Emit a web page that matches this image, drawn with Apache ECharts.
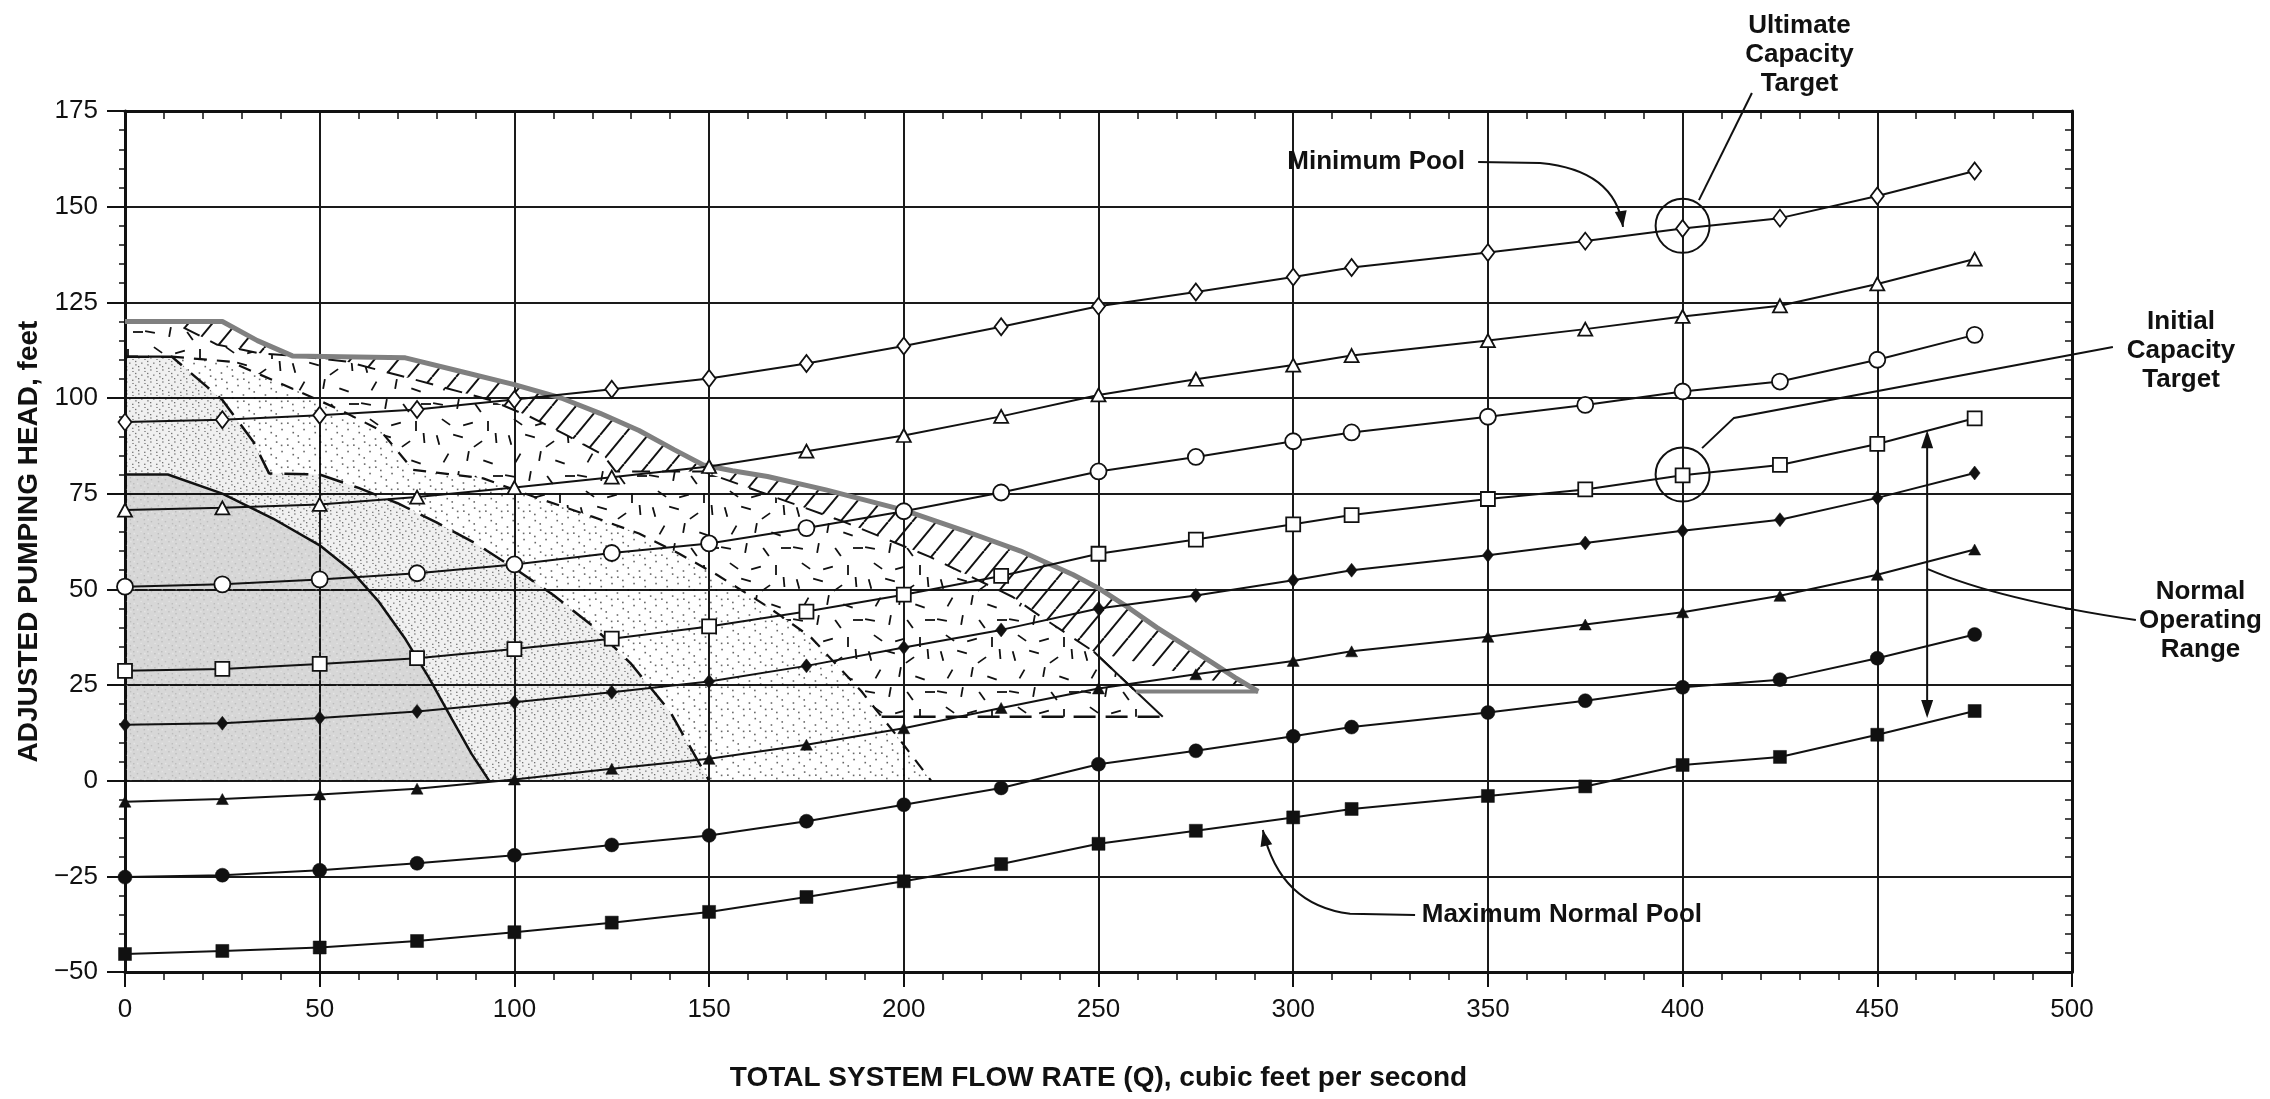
<!DOCTYPE html>
<html><head><meta charset="utf-8">
<script src="https://cdn.jsdelivr.net/npm/echarts@6/dist/echarts.min.js"></script>
<style>html,body{margin:0;padding:0;background:#fff}#chart{width:2270px;height:1099px}</style>
</head><body><div id="chart"></div>
<script>
// ---------------- DATA ----------------
const flowQ = [0,25,50,75,100,125,150,175,200,225,250,275,300,315,350,375,400,425,450,475];
const xTicks = [0,50,100,150,200,250,300,350,400,450,500];
const yTicks = [-50,-25,0,25,50,75,100,125,150,175];

const headMinPool      = [93.7,94.3,95.5,97.0,99.6,102.3,105.1,109.0,113.6,118.6,124.0,127.7,131.6,134.1,138.0,141.0,144.3,147.0,152.8,159.3];
const headOpenTriangle = [70.7,71.3,72.2,74.1,76.6,79.3,82.1,86.1,90.2,95.2,100.8,104.9,108.6,111.1,115.0,118.0,121.3,124.1,129.8,136.3];
const headOpenCircle   = [50.7,51.3,52.6,54.2,56.5,59.5,62.0,66.0,70.4,75.3,80.8,84.6,88.7,91.0,95.1,98.2,101.7,104.3,110.0,116.5];
const headOpenSquare   = [28.7,29.2,30.5,32.0,34.4,37.1,40.3,44.2,48.6,53.5,59.3,63.0,67.0,69.4,73.6,76.1,79.8,82.5,88.0,94.7];
const headFillDiamond  = [14.6,15.0,16.4,18.1,20.5,23.1,25.9,30.0,34.8,39.4,45.0,48.4,52.4,55.0,58.9,62.1,65.3,68.2,73.9,80.4];
const headFillTriangle = [-5.5,-4.8,-3.6,-2.1,0.3,3.1,5.7,9.4,13.7,19.0,24.1,27.8,31.3,33.8,37.6,40.8,44.0,48.3,53.8,60.4];
const headFillCircle   = [-25.2,-24.7,-23.4,-21.6,-19.5,-16.8,-14.3,-10.6,-6.3,-1.9,4.3,7.8,11.6,14.0,17.8,20.9,24.4,26.4,32.0,38.2];
const headMaxPool      = [-45.3,-44.5,-43.6,-41.9,-39.6,-37.1,-34.3,-30.4,-26.3,-21.8,-16.5,-13.1,-9.6,-7.4,-4.0,-1.5,4.1,6.2,12.0,18.2];

// operating-zone boundaries [flow, head]
const solidCurve = [[0,80],[11,80],[25,75],[38,68.5],[50,61.5],[58,55],[65,47],[72,37],[78,27],[84,16],[89,7],[93.5,0]];
const longDash = [[0,110.8],[12,110.8],[25,99.5],[33,88.5],[37,80.3],[50,80],[60,76.5],[70,72.5],[80,67.5],[90,62],[100,55.5],[110,48.5],[120,40.5],[130,30.5],[140,18],[150,0]];
const mediumDash = [[0,110.8],[12,110.8],[27,109.5],[44,102],[55,97],[65.5,91.6],[74,81.2],[80,80.5],[92,79],[105,74.2],[120,69],[132,64.6],[142,59.5],[152,53.8],[165,45.5],[176,37.6],[189,23.5],[194.3,16.7],[198,12],[207,0]];
const innerBoundary = [[0,120],[12,120],[23.5,114],[35,111.6],[45,110.9],[57,109.5],[70,106],[81,103],[93.7,99.5],[104,95.1],[113,90.5],[122.8,85.1],[126,80.8],[148.5,80.8],[163,75.5],[184.5,67.7],[206.7,58.5],[228,48],[234,43.7],[248.8,33.7],[259.6,23.3]];
const topBoundary = [[0,120],[25,120],[34,115],[43,111],[72,110.5],[86,107],[100,103.5],[112,100],[122,96],[132,91.5],[141,86.5],[148.5,82.5],[156,81],[165,79.5],[180,76],[200,70.7],[215,65.5],[230,60],[243.5,53.8],[250,50.3],[258,45],[265,40],[272,35.5],[279,31],[285,27],[291,23.3]];
const hatchFloor = [[259.6,23.3],[291,23.3]];
const innerTail = [[248.8,33.7],[266.5,16.7]];
const bottomDash = [[194.3,16.7],[266.5,16.7]];

// annotations [flow, head]
const targetCircles = [[400,145],[400,80]];
const noteTexts = ['Ultimate\nCapacity\nTarget','Minimum Pool','Initial\nCapacity\nTarget','Normal\nOperating\nRange','Maximum Normal Pool'];
const notePos = [[430,189.6],[321.3,161.7],[528,112.3],[533,41.7],[369,-35.1]];
const ultimateLeader = [[404.2,151.7],[417.8,179.7]];
const initialLeader = [[510.5,113.3],[413.2,94.8],[405,86.9]];
const minPoolLeader = [[347.5,161.7],[363.4,161.4],[382.6,159.6],[384.7,144.7]];
const maxPoolLeader = [[331.3,-35.1],[314.6,-34.8],[296.6,-32.5],[292.2,-12.9]];
const rangeArrow = [[462.8,91.6],[462.8,16.4]];
const rangeLeader = [[463,55.3],[481.5,47.2],[516.4,42]];

// ---------------- STYLE ----------------
const FONT = '"Liberation Sans", Arial, Helvetica, sans-serif';
const INK = '#111';

function tile(w,h,draw){const c=document.createElement('canvas');c.width=w;c.height=h;draw(c.getContext('2d'),w,h);return {image:c,repeat:'repeat'};}
function r2(i){return [(0.5+i*0.7548776662)%1,(0.5+i*0.5698402910)%1];}
const patGray = tile(14,14,(g,w,h)=>{g.fillStyle='rgba(0,0,0,0.155)';g.fillRect(0,0,w,h);
  g.fillStyle='rgba(0,0,0,0.12)';for(let i=0;i<6;i++){const p=r2(i);g.fillRect(p[0]*w,p[1]*h,1.5,1.5);}
  g.fillStyle='rgba(255,255,255,0.3)';for(let i=6;i<10;i++){const p=r2(i);g.fillRect(p[0]*w,p[1]*h,1.5,1.5);}});
const patDense = tile(12,12,(g,w,h)=>{g.fillStyle='rgba(0,0,0,0.06)';g.fillRect(0,0,w,h);
  g.fillStyle='rgba(0,0,0,0.55)';for(let i=0;i<7;i++){const p=r2(i);g.fillRect(p[0]*w,p[1]*h,1.3,1.3);}});
const patSparse = tile(22,22,(g,w,h)=>{g.fillStyle='rgba(0,0,0,0.6)';for(let i=0;i<8;i++){const p=r2(i+3);g.fillRect(p[0]*w,p[1]*h,1.6,1.6);}});
const confetti = [[6,8,75],[26,4,15],[46,12,-35],[64,6,85],[14,26,-60],[36,24,100],[56,30,20],[6,44,10],[26,44,-80],[46,48,55],[66,44,0],[14,62,35],[36,64,-15],[56,66,90]];
const patConfetti = tile(72,72,(g)=>{g.strokeStyle=INK;g.lineWidth=1.8;confetti.forEach(d=>{const a=d[2]*Math.PI/180,dx=5*Math.cos(a),dy=5*Math.sin(a);g.beginPath();g.moveTo(d[0]-dx,d[1]-dy);g.lineTo(d[0]+dx,d[1]+dy);g.stroke();});});
const patHatch = tile(24,29,(g,w,h)=>{g.strokeStyle=INK;g.lineWidth=2;for(let k=-1;k<=1;k++){g.beginPath();g.moveTo(k*w,h);g.lineTo(k*w+w,0);g.stroke();}});

const zoneA = [[0,0]].concat(solidCurve);
const zoneB = longDash.concat(solidCurve.slice().reverse());
const zoneC = longDash.concat(mediumDash.slice().reverse());
const zoneD = innerBoundary.concat([[266.5,16.7]]).concat(mediumDash.filter(p=>p[1]>=16.7).reverse());
const zoneE = topBoundary.concat(innerBoundary.slice(0,-1).reverse());
const zones = [zoneA,zoneB,zoneC,zoneD,zoneE];
const zoneFills = [patGray,patDense,patSparse,patConfetti,patHatch];

function pairs(ys){return flowQ.map((x,i)=>[x,ys[i]]);}
function dataLine(name, ys, symbol, size, open){
  return {name, type:'line', data:pairs(ys), symbol, symbolSize:size, showAllSymbol:true, z:4,
    lineStyle:{color:INK,width:2}, itemStyle:{color:open?'#fff':INK,borderColor:INK,borderWidth:open?1.8:0.5},
    emphasis:{disabled:true}, animation:false};
}
function bLine(data, opts){return Object.assign({type:'line',data,symbol:'none',z:3,silent:true,animation:false,
  lineStyle:{color:INK,width:2.5,type:'solid'}},opts||{});}

function arrowHead(tip, from, len, half){
  const dx=tip[0]-from[0], dy=tip[1]-from[1], L=Math.hypot(dx,dy)||1, ux=dx/L, uy=dy/L;
  const bx=tip[0]-ux*len, by=tip[1]-uy*len;
  return {type:'polygon',shape:{points:[tip,[bx-uy*half,by+ux*half],[bx+uy*half,by-ux*half]]},style:{fill:INK}};
}

const yLabel = v => v<0 ? '\u2212'+Math.abs(v) : String(v);

const option = {
  backgroundColor:'#fff',
  animation:false,
  grid:{left:125,right:198,top:111,bottom:127,containLabel:false},
  xAxis:[{
    type:'value',min:xTicks[0],max:xTicks[xTicks.length-1],interval:50,position:'bottom',
    axisLine:{show:true,onZero:false,lineStyle:{color:INK,width:3}},
    axisTick:{show:true,length:15,lineStyle:{color:INK,width:2}},
    minorTick:{show:true,splitNumber:5,length:8,lineStyle:{color:INK,width:1.5}},
    axisLabel:{fontSize:26,color:INK,margin:25,fontFamily:FONT},
    splitLine:{show:true,lineStyle:{color:'#1a1a1a',width:2}},
    name:'TOTAL SYSTEM FLOW RATE (Q), cubic feet per second',nameLocation:'middle',nameGap:92,
    nameTextStyle:{fontSize:28,fontWeight:'bold',color:INK,fontFamily:FONT}
  },{
    type:'value',min:xTicks[0],max:xTicks[xTicks.length-1],interval:50,position:'top',
    axisLine:{show:true,onZero:false,lineStyle:{color:INK,width:3}},
    axisTick:{show:false,inside:true},
    minorTick:{show:true,splitNumber:5,length:8,lineStyle:{color:INK,width:1.5}},
    axisLabel:{show:false},splitLine:{show:false}
  }],
  yAxis:[{
    type:'value',min:yTicks[0],max:yTicks[yTicks.length-1],interval:25,position:'left',
    axisLine:{show:true,onZero:false,lineStyle:{color:INK,width:3}},
    axisTick:{show:true,length:18,lineStyle:{color:INK,width:2}},
    minorTick:{show:true,splitNumber:5,length:6,lineStyle:{color:INK,width:1.5}},
    axisLabel:{fontSize:26,color:INK,margin:27,fontFamily:FONT,formatter:yLabel},
    splitLine:{show:true,lineStyle:{color:'#1a1a1a',width:2}},
    name:'ADJUSTED PUMPING HEAD, feet',nameLocation:'middle',nameRotate:90,nameGap:76,
    nameTextStyle:{fontSize:28,fontWeight:'bold',color:INK,fontFamily:FONT}
  },{
    type:'value',min:yTicks[0],max:yTicks[yTicks.length-1],interval:25,position:'right',
    axisLine:{show:true,onZero:false,lineStyle:{color:INK,width:3}},
    axisTick:{show:false,inside:true},
    minorTick:{show:true,splitNumber:5,length:7,lineStyle:{color:INK,width:1.5}},
    axisLabel:{show:false},splitLine:{show:false}
  }],
  series:[
    {type:'custom',coordinateSystem:'cartesian2d',z:1,silent:true,clip:true,
     data:zones.map((z,i)=>[i,0]),
     renderItem:(params,api)=>({type:'polygon',shape:{points:zones[params.dataIndex].map(p=>api.coord(p))},
       style:{fill:zoneFills[params.dataIndex],stroke:null}})},
    bLine(solidCurve,{lineStyle:{color:INK,width:2.5}}),
    bLine(longDash,{lineStyle:{color:INK,width:2.5,type:[24,12]}}),
    bLine(mediumDash,{lineStyle:{color:INK,width:2.2,type:[13,10]}}),
    bLine(innerBoundary,{lineStyle:{color:INK,width:2,type:[18,12]}}),
    bLine(innerTail,{lineStyle:{color:INK,width:2}}),
    bLine(bottomDash,{lineStyle:{color:INK,width:2.5,type:[22,10]}}),
    bLine(topBoundary,{lineStyle:{color:'#808080',width:5}}),
    bLine(hatchFloor,{lineStyle:{color:'#808080',width:4}}),
    dataLine('Minimum Pool',headMinPool,'diamond',[13,17],true),
    dataLine('Open triangle',headOpenTriangle,'triangle',[14,13],true),
    dataLine('Open circle',headOpenCircle,'circle',16,true),
    dataLine('Open square',headOpenSquare,'rect',[14,14],true),
    dataLine('Filled diamond',headFillDiamond,'diamond',[11,14],false),
    dataLine('Filled triangle',headFillTriangle,'triangle',[12,11],false),
    dataLine('Filled circle',headFillCircle,'circle',14,false),
    dataLine('Maximum Normal Pool',headMaxPool,'rect',13,false),
    {type:'custom',coordinateSystem:'cartesian2d',z:6,silent:true,clip:false,data:[[0,0]],
     renderItem:(params,api)=>{
       const P=p=>api.coord(p); const ch=[]; const ls={fill:null,stroke:INK,lineWidth:2};
       targetCircles.forEach(c=>{const q=P(c);ch.push({type:'circle',shape:{cx:q[0],cy:q[1],r:27},style:ls});});
       [ultimateLeader,initialLeader].forEach(pl=>ch.push({type:'polyline',shape:{points:pl.map(P)},style:ls}));
       [minPoolLeader,maxPoolLeader].forEach(pl=>{const q=pl.map(P);
         ch.push({type:'path',shape:{pathData:`M${q[0][0]},${q[0][1]}L${q[1][0]},${q[1][1]}Q${q[2][0]},${q[2][1]},${q[3][0]},${q[3][1]}`},style:ls});
         ch.push(arrowHead(q[3],q[2],16,6));});
       {const q=rangeLeader.map(P);ch.push({type:'path',shape:{pathData:`M${q[0][0]},${q[0][1]}Q${q[1][0]},${q[1][1]},${q[2][0]},${q[2][1]}`},style:ls});}
       {const a=P(rangeArrow[0]),b=P(rangeArrow[1]);ch.push({type:'line',shape:{x1:a[0],y1:a[1]+10,x2:b[0],y2:b[1]-10},style:ls});
        ch.push(arrowHead(a,b,18,6));ch.push(arrowHead(b,a,18,6));}
       noteTexts.forEach((t,i)=>{const q=P(notePos[i]);ch.push({type:'text',style:{text:t,x:q[0],y:q[1],
         align:'center',verticalAlign:'middle',fill:INK,font:'bold 26px '+FONT,lineHeight:29}});});
       return {type:'group',children:ch};
     }}
  ]
};
const chart = echarts.init(document.getElementById('chart'),null,{renderer:'canvas'});
chart.setOption(option);
</script></body></html>
